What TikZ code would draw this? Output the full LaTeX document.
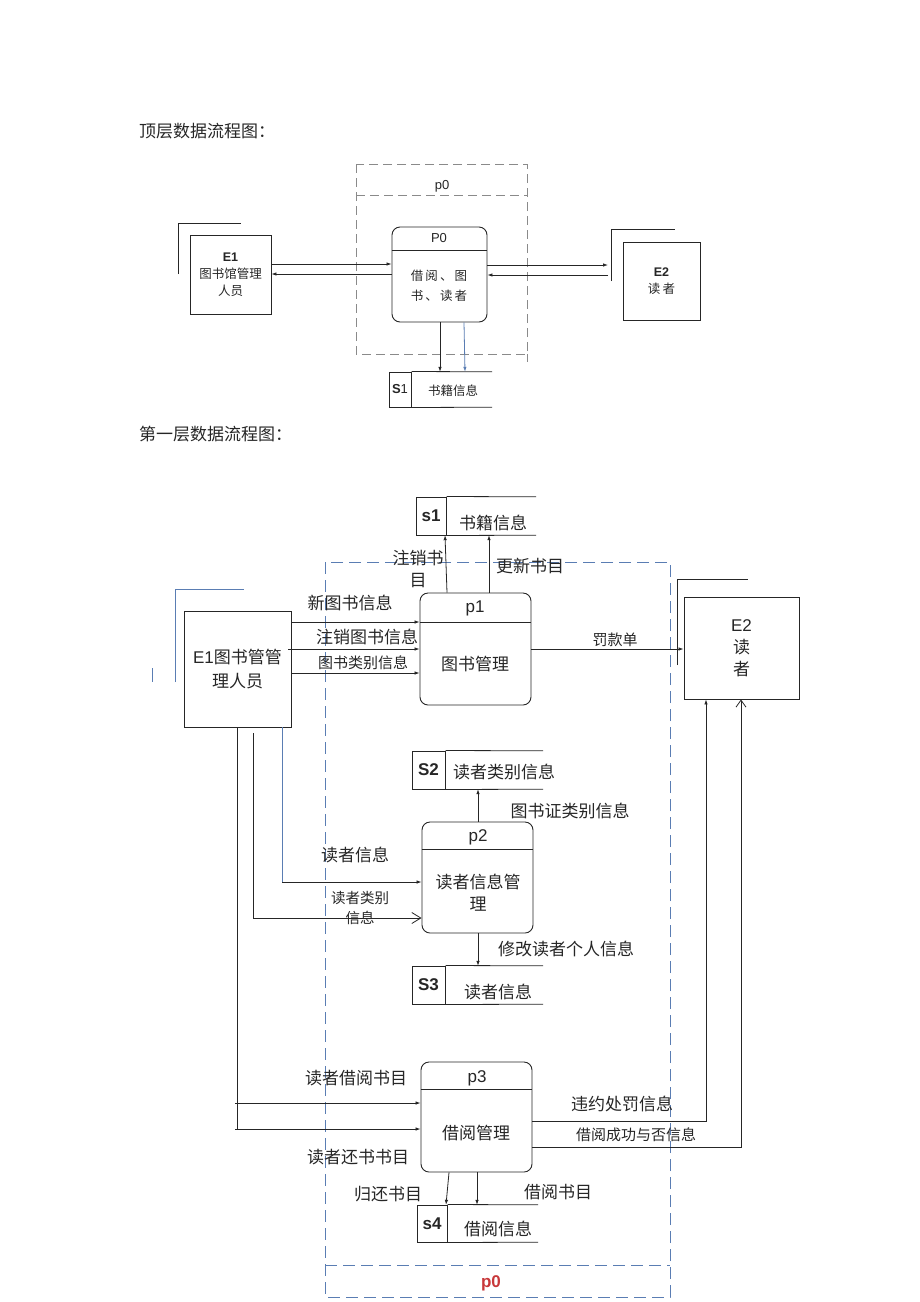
\documentclass[tikz,border=0pt]{standalone}
\usepackage{fontspec}
\setmainfont{Noto Sans CJK SC}
\newfontfamily\lat{Liberation Sans}
\usetikzlibrary{arrows.meta,calc}
\definecolor{ln}{HTML}{262626}
\definecolor{bl}{HTML}{5A7DB3}
\definecolor{gd}{HTML}{8A8A8A}
\definecolor{tx}{HTML}{262626}
\definecolor{pred}{HTML}{C8383A}
\begin{document}
\begin{tikzpicture}[x=1pt,y=-1pt,
  line/.style={draw=ln, line width=0.8pt},
  arr/.style={line, -{Latex[length=5pt,width=3.5pt]}},
  oarr/.style={line, -{Straight Barb[length=9pt,width=11pt,line width=0.8pt]}},
  ent/.style={draw=ln, line width=0.9pt, inner sep=0, align=center, text=tx},
  proc/.style={draw=ln, line width=0.9pt, rounded corners=8pt, inner sep=0},
  inv/.style={inner sep=0, minimum height=38pt},
  idbox/.style={draw=ln, line width=1pt, inner sep=0, text=tx},
  lbl/.style={font=\fontsize{16}{18}\selectfont, text=tx, inner sep=0},
  slbl/.style={font=\fontsize{14.5}{18}\selectfont, text=tx, inner sep=0},
  tlbl/.style={font=\fontsize{12.5}{16}\selectfont, text=tx, inner sep=0},
  gdash/.style={draw=gd, line width=0.8pt, dash pattern=on 9pt off 5pt},
  bdash/.style={draw=bl, line width=0.9pt, dash pattern=on 12pt off 6pt},
]
\useasboundingbox[fill=white] (0,0) rectangle (920,1302);

% ---------------- headings
\node[lbl, anchor=west, font=\fontsize{17}{20}\selectfont] (h1) at (139,131) {顶层数据流程图：};
\node[lbl, anchor=west, font=\fontsize{17}{20}\selectfont] (h2) at (139,434) {第一层数据流程图：};

% ================= TOP DIAGRAM
% p0 frame
\draw[gdash] (356,164) rectangle (527,354);
\draw[gdash] (356,195) -- (527,195);
\draw[gdash] (527,354) -- (527,362);
\node[tlbl, font=\lat\fontsize{13}{15}\selectfont] (tp0) at (442,186) {p0};

% E1
\draw[line] (178,274) |- (241,223);
\node[ent, minimum width=81pt, minimum height=79pt, font=\fontsize{12.5}{17}\selectfont] (tE1) at (230.5,274.5)
  {{\lat\bfseries E1}\\图书馆管理\\人员};

% P0
\node[proc, minimum width=95pt, minimum height=95pt] (tP0) at (439.5,274.5) {};
\draw[line] (tP0.west |- 0,250) -- (tP0.east |- 0,250);
\node[tlbl, font=\lat\fontsize{13}{15}\selectfont] (tP0h) at (439,238) {P0};
\node[tlbl, align=center, font=\fontsize{12.5}{20}\selectfont] (tP0b) at (439,286) {借\,阅\,、\,图\\书\,、\,读\,者};

% E2
\coordinate (tE2a) at (611,281);
\coordinate (tE2b) at (675,229);
\draw[line] (tE2a) |- (tE2b);
\node[ent, minimum width=77pt, minimum height=78pt, font=\fontsize{12.5}{17}\selectfont] (tE2) at (661.5,281)
  {{\lat\bfseries E2}\\读\,者};

% S1 store
\node[inv, minimum width=103pt, minimum height=35pt] (tS1) at (440.5,389.5) {};
\node[idbox, minimum width=22pt, minimum height=35pt] (tS1id) at (400,389.5) {\lat\fontsize{13}{15}\selectfont\textbf{S}1};
\draw[line] (tS1id.north east) -- (tS1.north east);
\draw[line] (tS1id.south east) -- (tS1.south east);
\node[tlbl] (tS1n) at (453,391) {书籍信息};

% top arrows
\draw[arr] (tE1.east |- 0,264) -- (tP0.west |- 0,264);
\draw[arr] (tP0.west |- 0,274) -- (tE1.east |- 0,274);
\draw[arr] (tP0.east |- 0,265) -- ([xshift=-3pt]tE2a |- 0,265);
\draw[arr] ([xshift=-3pt]tE2a |- 0,275) -- (tP0.east |- 0,275);
\draw[arr] (tP0.south -| 440,0) -- (tS1.north -| 440,0);
\draw[arr, draw=bl] (tP0.south -| 464,0) -- (tS1.north -| 465,0);

% ================= BOTTOM DIAGRAM
% p0 frame
\draw[bdash] (325,562) rectangle (670,1297);
\draw[bdash] (325,1265) -- (670,1265);
\node[lbl, font=\lat\bfseries\fontsize{17}{19}\selectfont, text=pred] (bp0) at (491,1283) {p0};

% stray mark
\draw[draw=bl, line width=0.9pt] (152,668) -- (152,682);

% E1
\draw[draw=bl, line width=0.9pt] (175,682) |- (244,589);
\node[ent, minimum width=107pt, minimum height=116pt, font=\fontsize{17}{24}\selectfont] (E1) at (237.5,669)
  {{\lat E1}图书管管\\理人员};

% p1
\node[proc, minimum width=111pt, minimum height=112pt] (p1) at (475.5,649) {};
\draw[line] (p1.west |- 0,622) -- (p1.east |- 0,622);
\node[lbl, font=\lat\fontsize{17}{19}\selectfont] (p1h) at (475,608) {p1};
\node[lbl, font=\fontsize{17}{19}\selectfont] (p1b) at (475,664) {图书管理};

% E2
\draw[line] (677,665) |- (748,579);
\node[ent, minimum width=115pt, minimum height=102pt, font=\fontsize{17}{22}\selectfont] (E2) at (741.5,648)
  {{\lat E2}\\读\\者};

% s1 store
\node[inv, minimum width=120pt] (s1) at (476,516) {};
\node[idbox, minimum width=30pt, minimum height=38pt, font=\lat\bfseries\fontsize{17}{19}\selectfont] (s1id) at (431,516) {s1};
\draw[line] (s1id.north east) -- (s1.north east);
\draw[line] (s1id.south east) -- (s1.south east);
\node[lbl, font=\fontsize{17}{19}\selectfont] (s1n) at (493,523) {书籍信息};

% p2
\node[proc, minimum width=111pt, minimum height=111pt] (p2) at (477.5,877.5) {};
\draw[line] (p2.west |- 0,849) -- (p2.east |- 0,849);
\node[lbl, font=\lat\fontsize{17}{19}\selectfont] (p2h) at (478,837) {p2};
\node[lbl, align=center, font=\fontsize{17}{22}\selectfont] (p2b) at (478,893) {读者信息管\\理};

% S2 store
\node[inv, minimum width=131pt] (S2) at (477.5,770) {};
\node[idbox, minimum width=33pt, minimum height=38pt, font=\lat\bfseries\fontsize{17}{19}\selectfont] (S2id) at (428.5,770) {S2};
\draw[line] (S2id.north east) -- (S2.north east);
\draw[line] (S2id.south east) -- (S2.south east);
\node[lbl, font=\fontsize{17}{19}\selectfont] (S2n) at (504,772) {读者类别信息};

% S3 store
\node[inv, minimum width=131pt] (S3) at (477.5,985) {};
\node[idbox, minimum width=33pt, minimum height=38pt, font=\lat\bfseries\fontsize{17}{19}\selectfont] (S3id) at (428.5,985) {S3};
\draw[line] (S3id.north east) -- (S3.north east);
\draw[line] (S3id.south east) -- (S3.south east);
\node[lbl, font=\fontsize{17}{19}\selectfont] (S3n) at (498,992) {读者信息};

% p3
\node[proc, minimum width=111pt, minimum height=110pt] (p3) at (476.5,1117) {};
\draw[line] (p3.west |- 0,1089) -- (p3.east |- 0,1089);
\node[lbl, font=\lat\fontsize{17}{19}\selectfont] (p3h) at (477,1078) {p3};
\node[lbl, font=\fontsize{17}{19}\selectfont] (p3b) at (476,1133) {借阅管理};

% s4 store
\node[inv, minimum width=121pt, minimum height=37pt] (s4) at (477.5,1223.5) {};
\node[idbox, minimum width=30pt, minimum height=37pt, font=\lat\bfseries\fontsize{17}{19}\selectfont] (s4id) at (432,1223.5) {s4};
\draw[line] (s4id.north east) -- (s4.north east);
\draw[line] (s4id.south east) -- (s4.south east);
\node[lbl, font=\fontsize{17}{19}\selectfont] (s4n) at (498,1229) {借阅信息};

% ---- connectors p1
\draw[arr] (p1.north -| 447,0) -- (s1.south -| 445,0);
\draw[arr] (p1.north -| 489,0) -- (s1.south -| 489,0);
\draw[arr] (E1.east |- 0,622) -- (p1.west |- 0,622);
\draw[arr] ([xshift=-3pt]E1.east |- 0,649) -- (p1.west |- 0,649);
\draw[arr] (E1.east |- 0,673) -- (p1.west |- 0,673);
\draw[arr] (p1.east |- 0,649) -- (E2.west |- 0,649);

% ---- connectors p2
\draw[arr] (p2.north -| 478,0) -- (S2.south -| 478,0);
\draw[arr] (p2.south -| 478,0) -- (S3.north -| 478,0);
\coordinate (k1) at (282,882);
\draw[draw=bl, line width=0.8pt] (E1.south -| k1) -- (k1);
\draw[arr] (k1) -- (p2.west |- k1);
\coordinate (k2) at (253,733);
\draw[oarr] (k2) |- (p2.west |- 0,918);

% ---- connectors p3
\coordinate (j1) at (237,1103);
\coordinate (j2) at (237,1129);
\draw[line] (E1.south -| j1) -- (j2);
\draw[arr] ([xshift=-2pt]j1) -- (p3.west |- j1);
\draw[arr] ([xshift=-2pt]j2) -- (p3.west |- j2);
\draw[arr] (p3.east |- 0,1121) -| (E2.south -| 706,0);
\draw[line, -{Straight Barb[length=7pt,width=10pt,line width=0.8pt]}] (p3.east |- 0,1147) -| (E2.south -| 741,0);
\draw[arr] (p3.south -| 449,0) -- (s4.north -| 446,0);
\draw[arr] (p3.south -| 477,0) -- (s4.north -| 477,0);

% ---- labels
\node[lbl, align=center, font=\fontsize{17}{22}\selectfont] (L1) at (418,569) {注销书\\目};
\node[lbl, font=\fontsize{17}{19}\selectfont] (L2) at (530,566) {更新书目};
\node[lbl, font=\fontsize{17}{19}\selectfont] (L3) at (350,603) {新图书信息};
\node[lbl, font=\fontsize{17}{19}\selectfont] (L4) at (367,637) {注销图书信息};
\node[slbl, font=\fontsize{15}{17}\selectfont] (L5) at (363,663) {图书类别信息};
\node[slbl, font=\fontsize{15}{17}\selectfont] (L6) at (615,640) {罚款单};
\node[lbl, font=\fontsize{17}{19}\selectfont] (L7) at (570,811) {图书证类别信息};
\node[lbl, font=\fontsize{17}{19}\selectfont] (L8) at (355,855) {读者信息};
\node[slbl, align=center, font=\fontsize{14.5}{20}\selectfont] (L9) at (360,908) {读者类别\\信息};
\node[lbl, font=\fontsize{17}{19}\selectfont] (L10) at (566,949) {修改读者个人信息};
\node[lbl, font=\fontsize{17}{19}\selectfont] (L11) at (356,1078) {读者借阅书目};
\node[lbl, font=\fontsize{17}{19}\selectfont] (L12) at (358,1157) {读者还书书目};
\node[lbl, font=\fontsize{17}{19}\selectfont] (L13) at (622,1104) {违约处罚信息};
\node[slbl, font=\fontsize{15}{17}\selectfont] (L14) at (636,1135) {借阅成功与否信息};
\node[lbl, font=\fontsize{17}{19}\selectfont] (L15) at (388,1194) {归还书目};
\node[lbl, font=\fontsize{17}{19}\selectfont] (L16) at (558,1192) {借阅书目};
\end{tikzpicture}
\end{document}
